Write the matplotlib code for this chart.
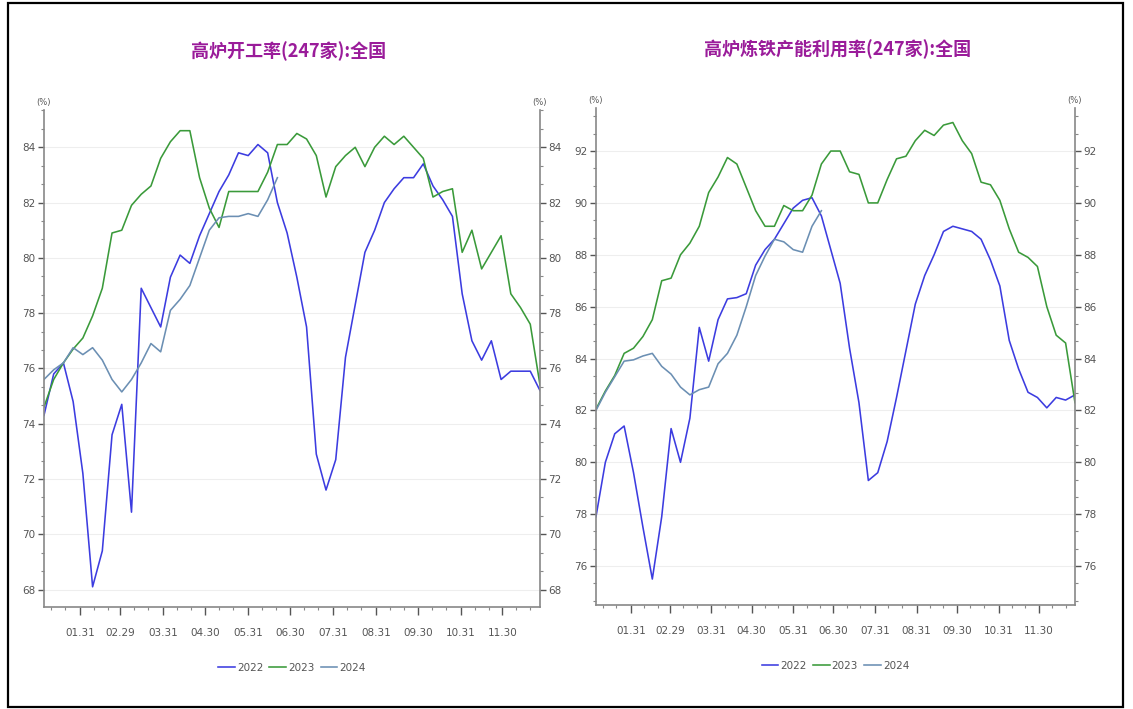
import numpy as np
import pandas as pd

import matplotlib
matplotlib.use("Agg")
import matplotlib.pyplot as plt  # noqa: E402
import matplotlib.dates as mdates  # noqa: E402
from matplotlib import font_manager  # noqa: E402
from matplotlib.patches import Rectangle  # noqa: E402
from matplotlib.ticker import AutoMinorLocator  # noqa: E402

# weekly readings, plotted on a common (2024) calendar
START = "2024-01-05"
TICK_DATES = ["2024-01-31", "2024-02-29", "2024-03-31", "2024-04-30", "2024-05-31",
              "2024-06-30", "2024-07-31", "2024-08-31", "2024-09-30", "2024-10-31",
              "2024-11-30"]
YEARS = ["2022", "2023", "2024"]

# 高炉开工率(247家):全国
util_2022 = [74.3, 75.8, 76.2, 74.8, 72.2, 68.1, 69.4, 73.6, 74.7, 70.8,
             78.9, 78.2, 77.5, 79.3, 80.1, 79.8, 80.8, 81.6, 82.4, 83.0,
             83.8, 83.7, 84.1, 83.8, 82.0, 80.9, 79.3, 77.5, 72.9, 71.6,
             72.7, 76.4, 78.3, 80.2, 81.0, 82.0, 82.5, 82.9, 82.9, 83.4,
             82.6, 82.1, 81.5, 78.7, 77.0, 76.3, 77.0, 75.6, 75.9, 75.9,
             75.9, 75.2]
util_2023 = [74.6, 75.6, 76.2, 76.7, 77.1, 77.9, 78.9, 80.9, 81.0, 81.9,
             82.3, 82.6, 83.6, 84.2, 84.6, 84.6, 82.9, 81.8, 81.1, 82.4,
             82.4, 82.4, 82.4, 83.1, 84.1, 84.1, 84.5, 84.3, 83.7, 82.2,
             83.3, 83.7, 84.0, 83.3, 84.0, 84.4, 84.1, 84.4, 84.0, 83.6,
             82.2, 82.4, 82.5, 80.2, 81.0, 79.6, 80.2, 80.8, 78.7, 78.2,
             77.6, 75.4]
util_2024 = [75.6, 75.95, 76.2, 76.75, 76.5, 76.75, 76.3, 75.6, 75.15, 75.6,
             76.2, 76.9, 76.6, 78.1, 78.5, 79.0, 80.0, 81.0, 81.45, 81.5,
             81.5, 81.6, 81.5, 82.1, 82.9]

# 高炉炼铁产能利用率(247家):全国
cap_2022 = [77.9, 80.0, 81.1, 81.4, 79.6, 77.5, 75.5, 77.9, 81.3, 80.0,
            81.7, 85.2, 83.9, 85.5, 86.3, 86.35, 86.5, 87.6, 88.2, 88.6,
            89.2, 89.8, 90.1, 90.2, 89.5, 88.2, 86.9, 84.4, 82.3, 79.3,
            79.6, 80.8, 82.5, 84.3, 86.1, 87.2, 88.0, 88.9, 89.1, 89.0,
            88.9, 88.6, 87.8, 86.8, 84.7, 83.6, 82.7, 82.5, 82.1, 82.5,
            82.4, 82.6]
cap_2023 = [82.05, 82.75, 83.35, 84.2, 84.4, 84.85, 85.5, 87.0, 87.1, 88.0,
            88.45, 89.1, 90.4, 91.0, 91.75, 91.5, 90.6, 89.7, 89.1, 89.1,
            89.9, 89.7, 89.7, 90.3, 91.5, 92.0, 92.0, 91.2, 91.1, 90.0,
            90.0, 90.9, 91.7, 91.8, 92.4, 92.8, 92.6, 93.0, 93.1, 92.4,
            91.9, 90.8, 90.7, 90.1, 89.0, 88.1, 87.9, 87.55, 86.0, 84.9,
            84.6, 82.3]
cap_2024 = [82.0, 82.7, 83.3, 83.9, 83.95, 84.1, 84.2, 83.7, 83.4, 82.9,
            82.6, 82.8, 82.9, 83.8, 84.2, 84.9, 86.0, 87.2, 87.95, 88.6,
            88.5, 88.2, 88.1, 89.1, 89.7]

COLORS = {"2022": "#3c3ce0", "2023": "#3a9a3a", "2024": "#6b8fb3"}
TITLE_COLOR = "#9a1c9a"
TEXT_GRAY = "#555555"

cjk = ["Noto Sans CJK SC", "DejaVu Sans"]
names = {f.name for f in font_manager.fontManager.ttflist}
narrow = "Liberation Sans Narrow" if "Liberation Sans Narrow" in names else "DejaVu Sans"


def draw_panel(ax, series, yticks, ylim):
    for year, vals in zip(YEARS, series):
        dates = pd.date_range(START, periods=len(vals), freq="7D")
        ax.plot(dates, vals, color=COLORS[year], lw=1.15, label=year)
    full = pd.date_range(START, periods=max(len(v) for v in series), freq="7D")
    ax.set_xlim(full[0], full[-1])
    ax.set_ylim(*ylim)

    ax.set_xticks(pd.to_datetime(TICK_DATES))
    ax.xaxis.set_major_formatter(mdates.DateFormatter("%m.%d"))
    ax.xaxis.set_minor_locator(mdates.DayLocator(bymonthday=[10, 20]))
    ax.set_yticks(yticks)
    ax.yaxis.set_minor_locator(AutoMinorLocator(3))
    ax.tick_params(axis="both", which="major", labelsize=7.5, colors=TEXT_GRAY,
                   length=4, width=1.0, pad=2)
    ax.tick_params(axis="x", which="major", length=6, pad=9)
    ax.tick_params(axis="both", which="minor", length=2.5, width=0.8, colors="#888888")
    ax.tick_params(axis="y", which="both", right=True, labelright=True)
    for lab in ax.get_xticklabels() + ax.get_yticklabels():
        lab.set_fontfamily(narrow)
    ax.grid(axis="y", which="major", color="#eeeeee", lw=0.8)
    ax.set_axisbelow(True)

    for side in ("left", "right", "bottom"):
        ax.spines[side].set_color("#888888")
        ax.spines[side].set_linewidth(1.2)
    ax.spines["top"].set_visible(False)

    for xpos in (0.0, 1.0):
        ax.text(xpos, 1.005, "(%)", transform=ax.transAxes, ha="center", va="bottom",
                fontsize=6, color=TEXT_GRAY, fontfamily=narrow)

    ax.legend(loc="center", bbox_to_anchor=(0.5, -0.123), ncol=3, frameon=False,
              fontsize=7.5, handlelength=1.6, handletextpad=0.2, columnspacing=0.6,
              labelcolor=TEXT_GRAY)


fig = plt.figure(figsize=(11.33, 7.09), dpi=100)

ax1 = fig.add_axes([0.0388, 0.1439, 0.4378, 0.701])
draw_panel(ax1, [util_2022, util_2023, util_2024], np.arange(68, 85, 2), (67.37, 85.35))

ax2 = fig.add_axes([0.526, 0.1467, 0.4228, 0.701])
draw_panel(ax2, [cap_2022, cap_2023, cap_2024], np.arange(76, 93, 2), (74.5, 93.66))

fig.text(289 / 1133, 1 - 51 / 709, "高炉开工率(247家):全国", ha="center", va="center",
         fontsize=13, fontweight="bold", color=TITLE_COLOR, family=cjk)
fig.text(838 / 1133, 1 - 49 / 709, "高炉炼铁产能利用率(247家):全国", ha="center", va="center",
         fontsize=13, fontweight="bold", color=TITLE_COLOR, family=cjk)

fig.patches.append(Rectangle((8 / 1133, 2 / 709), 1115 / 1133, 704 / 709,
                             transform=fig.transFigure, fill=False,
                             edgecolor="black", lw=1.6))

fig.savefig("out.png", dpi=100)
